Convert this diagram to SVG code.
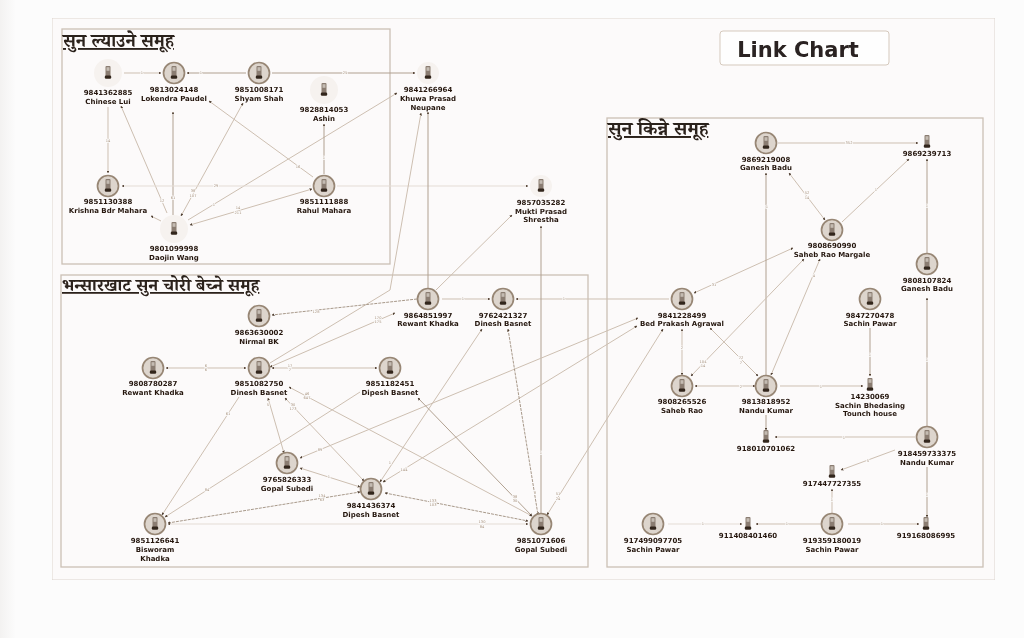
<svg xmlns="http://www.w3.org/2000/svg" width="1024" height="638" viewBox="0 0 1024 638">
<style>
.frame{fill:none;stroke:#cbc0b5;stroke-width:1.3}
.title{font-family:"Noto Serif Devanagari","Noto Sans Devanagari","Noto Sans","DejaVu Sans",sans-serif;font-size:18.500px;font-weight:700;fill:#2c211a;text-decoration:underline}
.t{font-family:"DejaVu Sans",sans-serif;font-size:7px;font-weight:700;fill:#261810;text-anchor:middle}
.el{font-family:"DejaVu Sans",sans-serif;font-size:3.6px;fill:#a8937f;text-anchor:middle;paint-order:stroke;stroke:#fcfbfb;stroke-width:1.5px}
.e{fill:none;stroke:#cdbfb1;stroke-width:1}
.d{stroke:#b0a090}
.l{stroke:#e4dcd5}
.da{stroke:#a8998a;stroke-dasharray:3 1}
.a{marker-end:url(#ah)}
.b{marker-start:url(#ah);marker-end:url(#ah)}
.n{fill:#ddd5cd;stroke:#978674;stroke-width:1.700}
.g{fill:#f6f2ef;stroke:none}
</style>
<defs>
<linearGradient id="lb" x1="0" x2="1" y1="0" y2="0"><stop offset="0" stop-color="#f3f2f1"/><stop offset="1" stop-color="#fcfcfc"/></linearGradient>
<filter id="soft" x="0" y="0" width="100%" height="100%" filterUnits="objectBoundingBox"><feGaussianBlur stdDeviation="0.3"/></filter>
<marker id="ah" viewBox="0 0 4 4" refX="3.5" refY="2" markerWidth="2.8" markerHeight="2.8" orient="auto-start-reverse" markerUnits="userSpaceOnUse"><path d="M0 0L4 2L0 4z" fill="#4f3f32"/></marker>
<symbol id="ph" overflow="visible"><rect x="-2.500" y="-7" width="5" height="10.500" rx="1" fill="#8a7c71"/><rect x="-1.500" y="-5.800" width="3" height="3.600" fill="#c4bbb2"/><rect x="-3.200" y="2.500" width="6.400" height="3.300" rx="1.200" fill="#33261d"/></symbol>
</defs>
<rect width="1024" height="638" fill="#fcfcfc"/>
<rect x="0" y="0" width="16" height="638" fill="url(#lb)"/>
<g filter="url(#soft)">
<rect x="52" y="18" width="943" height="562" fill="#fcfafa" stroke="#ddd5ce"/>
<g id="frames">
<rect class="frame" x="62" y="29" width="328" height="235"/>
<rect class="frame" x="61" y="275" width="527" height="292"/>
<rect class="frame" x="607" y="118" width="376" height="449"/>
</g>
<g id="titles">
<text class="title" x="63" y="47">सुन ल्याउने समूह</text>
<text class="title" x="62" y="291" style="font-size:17.750px">भन्सारखाट सुन चोरी बेच्ने समूह</text>
<text class="title" x="608" y="135" style="font-size:19.500px">सुन किन्ने समूह</text>
</g>
<g id="link-chart"><rect x="720" y="31" width="169" height="34" rx="3" fill="#fefefe" stroke="#d5c9bd"/><text x="798" y="57" text-anchor="middle" font-family="'DejaVu Sans',sans-serif" font-size="21" font-weight="700" fill="#2a2320">Link Chart</text></g>
<g id="connectors">
<path class="e a" d="M124 73H161"/>
<path class="e d a" d="M246 73H187"/>
<path class="e d a" d="M272 73H415"/>
<path class="e a" d="M108 107V173"/>
<path class="e a" d="M167 213L121 106"/>
<path class="e d a" d="M173 215V112"/>
<path class="e b" d="M181 216L243 103"/>
<path class="e a" d="M188 220L397 93"/>
<path class="e b" d="M190 225L312 189"/>
<path class="e a" d="M313 177L209 101"/>
<path class="e d a" d="M324 174V124"/>
<path class="e l a" d="M311 186H122"/>
<path class="e l a" d="M337 186H528"/>
<path class="e a" d="M161 221L151 216"/>
<path class="e d a" d="M428 288V112"/>
<path class="e a" d="M436 290L512 215"/>
<path class="e a" d="M270 363L390 290L421 113"/>
<path class="e b" d="M270 367L395 313"/>
<path class="e da a" d="M417 299L272 315"/>
<path class="e a" d="M442 299H490"/>
<path class="e a" d="M669 299H516"/>
<path class="e d a" d="M541 513V226"/>
<path class="e b" d="M377 368H272"/>
<path class="e b" d="M166 368H246"/>
<path class="e a" d="M239 397L162 515"/>
<path class="e a" d="M360 392L165 517"/>
<path class="e b" d="M268 398L284 453"/>
<path class="e b" d="M285 398L364 481"/>
<path class="e b" d="M289 387L532 516"/>
<path class="e b" d="M300 458L638 318"/>
<path class="e b" d="M300 468L360 487"/>
<path class="e da b" d="M168 523L360 492"/>
<path class="e l b" d="M168 524H528"/>
<path class="e da b" d="M385 493L528 521"/>
<path class="e b" d="M380 482L482 329"/>
<path class="e b" d="M383 482L637 326"/>
<path class="e d b" d="M418 398L532 516"/>
<path class="e da b" d="M508 329L538 515"/>
<path class="e b" d="M663 329L547 515"/>
<path class="e b" d="M694 293L793 248"/>
<path class="e a" d="M778 143H918"/>
<path class="e b" d="M789 173L825 220"/>
<path class="e a" d="M842 222L909 159"/>
<path class="e d a" d="M927 253V159"/>
<path class="e d a" d="M766 375V173"/>
<path class="e b" d="M771 375L820 259"/>
<path class="e b" d="M691 376L804 259"/>
<path class="e b" d="M710 328L758 376"/>
<path class="e b" d="M682 329V375"/>
<path class="e b" d="M695 386H755"/>
<path class="e a" d="M780 386H863"/>
<path class="e d a" d="M870 328V376"/>
<path class="e d a" d="M766 415V430"/>
<path class="e a" d="M915 437H775"/>
<path class="e d a" d="M927 427V298"/>
<path class="e a" d="M895 450L841 470"/>
<path class="e d a" d="M927 467V517"/>
<path class="e a" d="M832 513V489"/>
<path class="e a" d="M848 524H919"/>
<path class="e a" d="M822 524H756"/>
<path class="e l a" d="M668 524H742"/>
<g id="edge-labels">
<text class="el" x="142" y="74">1</text><text class="el" x="201" y="74">1</text><text class="el" x="345" y="74">25</text>
<text class="el" x="108" y="142">14</text><text class="el" x="162" y="202">12</text><text class="el" x="173" y="199">61</text>
<text class="el" x="193" y="192">38</text><text class="el" x="193" y="197">107</text>
<text class="el" x="238" y="209">14</text><text class="el" x="238" y="214">211</text>
<text class="el" x="216" y="187">29</text><text class="el" x="298" y="168">16</text><text class="el" x="214" y="206">1</text><text class="el" x="324" y="159">1</text>
<text class="el" x="316" y="313">128</text><text class="el" x="378" y="319">170</text><text class="el" x="378" y="323">175</text>
<text class="el" x="206" y="367">6</text><text class="el" x="206" y="371">6</text><text class="el" x="290" y="367">17</text><text class="el" x="290" y="371">7</text>
<text class="el" x="228" y="415">61</text><text class="el" x="207" y="491">84</text>
<text class="el" x="307" y="395">46</text><text class="el" x="307" y="399">647</text>
<text class="el" x="293" y="406">30</text><text class="el" x="293" y="410">173</text><text class="el" x="268" y="406">5</text>
<text class="el" x="320" y="451">89</text><text class="el" x="329" y="478">1</text>
<text class="el" x="322" y="497">134</text><text class="el" x="322" y="501">63</text>
<text class="el" x="463" y="300">1</text><text class="el" x="564" y="300">1</text><text class="el" x="404" y="471">144</text>
<text class="el" x="433" y="502">133</text><text class="el" x="433" y="506">103</text>
<text class="el" x="482" y="523">130</text><text class="el" x="482" y="528">84</text>
<text class="el" x="515" y="498">38</text><text class="el" x="515" y="502">30</text><text class="el" x="535" y="494">8</text>
<text class="el" x="558" y="495">51</text><text class="el" x="558" y="500">24</text><text class="el" x="541" y="454">1</text><text class="el" x="390" y="464">1</text>
<text class="el" x="849" y="144">352</text><text class="el" x="807" y="194">52</text><text class="el" x="807" y="199">14</text>
<text class="el" x="876" y="191">1</text><text class="el" x="767" y="208">1</text><text class="el" x="927" y="207">1</text>
<text class="el" x="714" y="286">31</text><text class="el" x="814" y="277">4</text>
<text class="el" x="703" y="363">104</text><text class="el" x="703" y="367">14</text><text class="el" x="741" y="359">72</text><text class="el" x="741" y="364">7</text>
<text class="el" x="682" y="349">2</text><text class="el" x="741" y="388">2</text><text class="el" x="821" y="388">1</text><text class="el" x="870" y="356">1</text><text class="el" x="927" y="361">1</text>
<text class="el" x="844" y="439">1</text><text class="el" x="868" y="462">5</text><text class="el" x="927" y="496">1</text>
<text class="el" x="703" y="525">1</text><text class="el" x="787" y="525">1</text><text class="el" x="882" y="525">1</text><text class="el" x="832" y="501">1</text>
</g>
</g>
<g id="n9841362885"><circle class="g" cx="108" cy="73" r="14"/><use href="#ph" x="108" y="73"/><text class="t" x="108" y="95">9841362885</text><text class="t" x="108" y="104">Chinese Lui</text></g>
<g id="n9813024148"><circle class="n" cx="174" cy="73" r="10.500"/><use href="#ph" x="174" y="73"/><text class="t" x="174" y="91.500">9813024148</text><text class="t" x="174" y="100.500">Lokendra Paudel</text></g>
<g id="n9851008171"><circle class="n" cx="259" cy="73" r="10.500"/><use href="#ph" x="259" y="73"/><text class="t" x="259" y="91.500">9851008171</text><text class="t" x="259" y="100.500">Shyam  Shah</text></g>
<g id="n9828814053"><circle class="g" cx="324" cy="90" r="14"/><use href="#ph" x="324" y="90"/><text class="t" x="324" y="112">9828814053</text><text class="t" x="324" y="121">Ashin</text></g>
<g id="n9841266964"><circle class="g" cx="428" cy="73" r="11"/><use href="#ph" x="428" y="73"/><text class="t" x="428" y="91.500">9841266964</text><text class="t" x="428" y="100.500">Khuwa Prasad</text><text class="t" x="428" y="109.500">Neupane</text></g>
<g id="n9851130388"><circle class="n" cx="108" cy="186" r="10.500"/><use href="#ph" x="108" y="186"/><text class="t" x="108" y="204">9851130388</text><text class="t" x="108" y="213">Krishna Bdr Mahara</text></g>
<g id="n9851111888"><circle class="n" cx="324" cy="186" r="10.500"/><use href="#ph" x="324" y="186"/><text class="t" x="324" y="204">9851111888</text><text class="t" x="324" y="213">Rahul Mahara</text></g>
<g id="n9801099998"><circle class="g" cx="174" cy="229" r="14"/><use href="#ph" x="174" y="229"/><text class="t" x="174" y="250.500">9801099998</text><text class="t" x="174" y="259.500">Daojin Wang</text></g>
<g id="n9857035282"><circle class="g" cx="541" cy="186" r="11"/><use href="#ph" x="541" y="186"/><text class="t" x="541" y="204.500">9857035282</text><text class="t" x="541" y="213.500">Mukti Prasad</text><text class="t" x="541" y="222">Shrestha</text></g>
<g id="n9863630002"><circle class="n" cx="259" cy="316" r="10.500"/><use href="#ph" x="259" y="316"/><text class="t" x="259" y="334.500">9863630002</text><text class="t" x="259" y="343.500">Nirmal BK</text></g>
<g id="n9808780287"><circle class="n" cx="153" cy="368" r="10.500"/><use href="#ph" x="153" y="368"/><text class="t" x="153" y="386">9808780287</text><text class="t" x="153" y="395">Rewant Khadka</text></g>
<g id="n9851082750"><circle class="n" cx="259" cy="368" r="10.500"/><use href="#ph" x="259" y="368"/><text class="t" x="259" y="386">9851082750</text><text class="t" x="259" y="395">Dinesh Basnet</text></g>
<g id="n9851182451"><circle class="n" cx="390" cy="368" r="10.500"/><use href="#ph" x="390" y="368"/><text class="t" x="390" y="386">9851182451</text><text class="t" x="390" y="395">Dipesh Basnet</text></g>
<g id="n9765826333"><circle class="n" cx="287" cy="463" r="10.500"/><use href="#ph" x="287" y="463"/><text class="t" x="287" y="481.500">9765826333</text><text class="t" x="287" y="490.500">Gopal Subedi</text></g>
<g id="n9841436374"><circle class="n" cx="371" cy="489" r="10.500"/><use href="#ph" x="371" y="489"/><text class="t" x="371" y="507.500">9841436374</text><text class="t" x="371" y="516.500">Dipesh Basnet</text></g>
<g id="n9851126641"><circle class="n" cx="155" cy="524" r="10.500"/><use href="#ph" x="155" y="524"/><text class="t" x="155" y="542.500">9851126641</text><text class="t" x="155" y="551.500">Bisworam</text><text class="t" x="155" y="560.500">Khadka</text></g>
<g id="n9851071606"><circle class="n" cx="541" cy="524" r="10.500"/><use href="#ph" x="541" y="524"/><text class="t" x="541" y="542.500">9851071606</text><text class="t" x="541" y="551.500">Gopal Subedi</text></g>
<g id="n9864851997"><circle class="n" cx="428" cy="299" r="10.500"/><use href="#ph" x="428" y="299"/><text class="t" x="428" y="317.500">9864851997</text><text class="t" x="428" y="326">Rewant Khadka</text></g>
<g id="n9762421327"><circle class="n" cx="503" cy="299" r="10.500"/><use href="#ph" x="503" y="299"/><text class="t" x="503" y="317.500">9762421327</text><text class="t" x="503" y="326">Dinesh Basnet</text></g>
<g id="n9841228499"><circle class="n" cx="682" cy="299" r="10.500"/><use href="#ph" x="682" y="299"/><text class="t" x="682" y="317.500">9841228499</text><text class="t" x="682" y="326">Bed Prakash Agrawal</text></g>
<g id="n9808265526"><circle class="n" cx="682" cy="386" r="10.500"/><use href="#ph" x="682" y="386"/><text class="t" x="682" y="404">9808265526</text><text class="t" x="682" y="412.500">Saheb Rao</text></g>
<g id="n9813818952"><circle class="n" cx="766" cy="386" r="10.500"/><use href="#ph" x="766" y="386"/><text class="t" x="766" y="404">9813818952</text><text class="t" x="766" y="412.500">Nandu Kumar</text></g>
<g id="n14230069"><use href="#ph" x="870" y="385"/><text class="t" x="870" y="398.500">14230069</text><text class="t" x="870" y="407.500">Sachin Bhedasing</text><text class="t" x="870" y="416">Tounch house</text></g>
<g id="n918010701062"><use href="#ph" x="766" y="437"/><text class="t" x="766" y="450.500">918010701062</text></g>
<g id="n918459733375"><circle class="n" cx="927" cy="437" r="10.500"/><use href="#ph" x="927" y="437"/><text class="t" x="927" y="456">918459733375</text><text class="t" x="927" y="464.500">Nandu Kumar</text></g>
<g id="n917447727355"><use href="#ph" x="832" y="472"/><text class="t" x="832" y="485.500">917447727355</text></g>
<g id="n917499097705"><circle class="n" cx="653" cy="524" r="10.500"/><use href="#ph" x="653" y="524"/><text class="t" x="653" y="542.500">917499097705</text><text class="t" x="653" y="551.500">Sachin Pawar</text></g>
<g id="n911408401460"><use href="#ph" x="748" y="524"/><text class="t" x="748" y="537.500">911408401460</text></g>
<g id="n919359180019"><circle class="n" cx="832" cy="524" r="10.500"/><use href="#ph" x="832" y="524"/><text class="t" x="832" y="542.500">919359180019</text><text class="t" x="832" y="551.500">Sachin Pawar</text></g>
<g id="n919168086995"><use href="#ph" x="926" y="524"/><text class="t" x="926" y="537.500">919168086995</text></g>
<g id="n9869219008"><circle class="n" cx="766" cy="143" r="10.500"/><use href="#ph" x="766" y="143"/><text class="t" x="766" y="161.500">9869219008</text><text class="t" x="766" y="170">Ganesh Badu</text></g>
<g id="n9869239713"><use href="#ph" x="927" y="142"/><text class="t" x="927" y="156">9869239713</text></g>
<g id="n9808690990"><circle class="n" cx="832" cy="230" r="10.500"/><use href="#ph" x="832" y="230"/><text class="t" x="832" y="247.500">9808690990</text><text class="t" x="832" y="256.500">Saheb Rao Margale</text></g>
<g id="n9808107824"><circle class="n" cx="927" cy="264" r="10.500"/><use href="#ph" x="927" y="264"/><text class="t" x="927" y="282.500">9808107824</text><text class="t" x="927" y="291">Ganesh Badu</text></g>
<g id="n9847270478"><circle class="n" cx="870" cy="299" r="10.500"/><use href="#ph" x="870" y="299"/><text class="t" x="870" y="317.500">9847270478</text><text class="t" x="870" y="326">Sachin Pawar</text></g>
</g>
</svg>
